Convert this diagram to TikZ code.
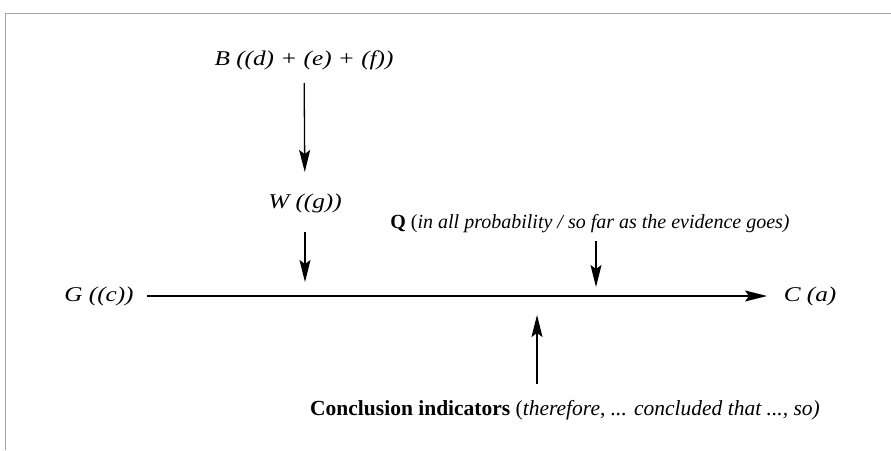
\documentclass[tikz,border=0pt]{standalone}
\usepackage{fontspec}
\setmainfont{Liberation Serif}
\newfontfamily\widefont[FakeStretch=1.2]{Liberation Serif}
\usetikzlibrary{arrows.meta}

\begin{document}
\begin{tikzpicture}[x=1pt,y=-1pt]
\tikzstyle{claim}=[inner sep=0pt,font=\widefont\fontsize{21}{24}\selectfont\itshape]
\tikzstyle{label}=[inner sep=0pt,font=\fontsize{20}{24}\selectfont]
\tikzstyle{edge}=[draw,line width=1.3pt,-{Stealth[length=22pt,width=11pt,inset=4pt]}]

\useasboundingbox (0,0) rectangle (891,450);
\draw[gray!70,line width=0.8pt] (5,450) -- (5,13) -- (891,13);

\node[claim] (B) at (304,60) {B ((d) + (e) + (f))};
\node[claim] (W) at (305,203) {W ((g))};
\node[claim] (G) at (99,296) {G ((c))};
\node[claim] (C) at (810,296) {C (a)};
\node[label] (Q) at (590,224) {\textbf{Q} (\textit{in all probability / so far as the evidence goes)}};
\node[label,font=\fontsize{21.5}{24}\selectfont] (CI) at (565,410) {\textbf{Conclusion indicators} (\textit{therefore}, \textit{... concluded that ..., so)}};

\coordinate (w1) at (305,282);
\coordinate (q1) at (596,287);
\coordinate (c1) at (537,315);

\path (B.center) edge[edge,shorten <=23pt,shorten >=31pt] (W.center);
\path (W.center) edge[edge,shorten <=29pt] (w1);
\path (G.center) edge[edge,shorten <=48pt,shorten >=43pt] (C.center);
\path (Q.center -| q1) edge[edge,shorten <=17pt] (q1);
\path (CI.center -| c1) edge[edge,shorten <=26pt] (c1);
\end{tikzpicture}
\end{document}
